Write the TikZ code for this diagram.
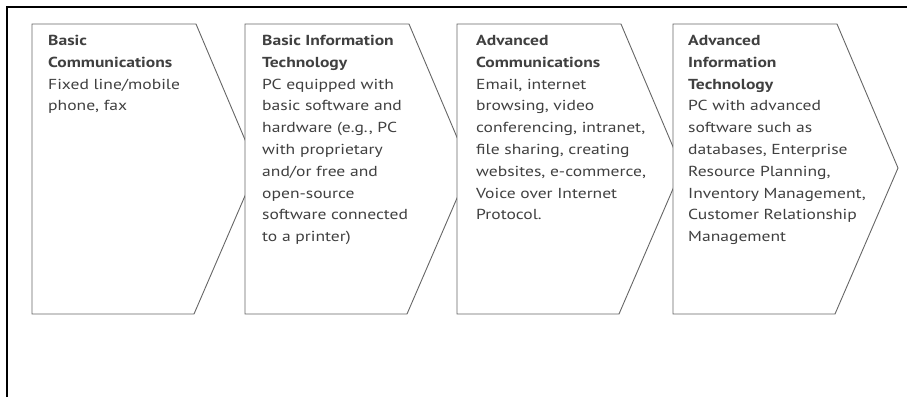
\documentclass[tikz,border=0pt]{standalone}
\usepackage{fontspec}
\setmainfont{PT Sans}[FakeStretch=1.21]
\begin{document}
\begin{tikzpicture}[x=1pt,y=-1pt,
  chev/.style={draw=black!60, line width=0.9pt, fill=white},
  txt/.style={anchor=north west, align=left, inner sep=0pt, font=\fontsize{14.5}{21.8}\selectfont, text=black!75},
  frame/.style={draw=black, line width=2pt}
]
\useasboundingbox (0,0) rectangle (907,397);
\coordinate (f1) at (7,397);
\coordinate (f2) at (7,7);
\coordinate (f3) at (907,7);
\draw[frame] (f1) -- (f2) -- (f3);
\foreach \L in {32,245,457,673}{
  \draw[chev] (\L,24) -- ({\L+164},24) -- ({\L+225},168) -- ({\L+162},314) -- (\L,314) -- cycle;
}
\node[txt] (t1) at (48,35) {\textbf{Basic}\\\textbf{Communications}\\Fixed line/mobile\\phone, fax};
\node[txt] (t2) at (262,35) {\textbf{Basic Information}\\\textbf{Technology}\\PC equipped with\\basic software and\\hardware (e.g., PC\\with proprietary\\and/or free and\\open-source\\software connected\\to a printer)};
\node[txt] (t3) at (476,35) {\textbf{Advanced}\\\textbf{Communications}\\Email, internet\\browsing, video\\conferencing, intranet,\\file sharing, creating\\websites, e-commerce,\\Voice over Internet\\Protocol.};
\node[txt] (t4) at (688,35) {\textbf{Advanced}\\\textbf{Information}\\\textbf{Technology}\\PC with advanced\\software such as\\databases, Enterprise\\Resource Planning,\\Inventory Management,\\Customer Relationship\\Management};
\end{tikzpicture}
\end{document}
